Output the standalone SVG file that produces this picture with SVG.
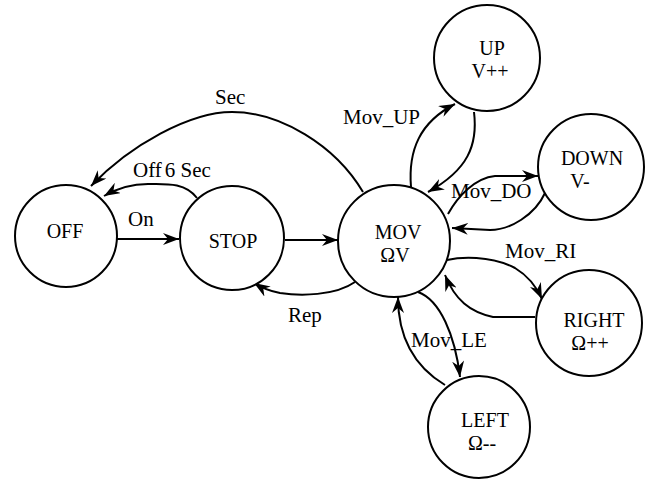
<svg xmlns="http://www.w3.org/2000/svg" width="647" height="479" viewBox="0 0 647 479">
<defs>
<marker id="arr" markerUnits="userSpaceOnUse" viewBox="0 0 16 12" refX="16" refY="6" markerWidth="16" markerHeight="12" orient="auto">
<path d="M0,0 L16,6 L0,12 L5,6 z" fill="#000"/>
</marker>
<style>
.n{fill:#fff;stroke:#000;stroke-width:2}
.t{font-family:'Liberation Serif','Times New Roman',Times,'DejaVu Serif',serif;font-size:21px;fill:#000}
.s{font-size:20px}
.c{text-anchor:middle}
.e{fill:none;stroke:#000;stroke-width:2;marker-end:url(#arr)}
</style>
</defs>
<rect width="647" height="479" fill="#fff"/>
<g id="connectors">
<path class="e" d="M363,192 C335,145 280,112 232,112 C190,112 130,145 91,186"/>
<path class="e" d="M197,198 C185,182 165,184 148,184 C130,184 116,189 104,196"/>
<path class="e" d="M117,239 L179,239"/>
<path class="e" d="M285,240 L338,240"/>
<path class="e" d="M355,282 C335,296 300,296 280,293 C270,291 262,288 254,283"/>
<path class="e" d="M411,187 C408,150 420,122 455,104"/>
<path class="e" d="M474,112 C478,145 468,170 428,192"/>
<path class="e" d="M448,214 C458,196 475,178 495,176 L538,176"/>
<path class="e" d="M545,193 C535,215 510,230 490,230 L452,228"/>
<path class="e" d="M447,260 C460,257 490,255 515,268 C530,277 537,288 542,299"/>
<path class="e" d="M535,317 L493,317 C470,312 455,300 445,275"/>
<path class="e" d="M418,292 C440,300 455,335 460,377"/>
<path class="e" d="M445,385 C420,370 398,345 398,297"/>
<text class="t" x="215" y="104">Sec</text>
<text class="t" x="133" y="177">Off<tspan dx="3">6 Sec</tspan></text>
<text class="t" x="128" y="226">On</text>
<text class="t" x="288" y="322">Rep</text>
<text class="t" x="343" y="124">Mov_UP</text>
<text class="t" x="451" y="198">Mov_DO</text>
<text class="t" x="505" y="258">Mov_RI</text>
<text class="t" x="411" y="347">Mov_LE</text>
</g>
<g id="OFF"><circle class="n" cx="66" cy="236" r="51"/><text class="t s c" x="65" y="238">OFF</text></g>
<g id="STOP"><circle class="n" cx="232" cy="238" r="52"/><text class="t s c" x="233" y="248">STOP</text></g>
<g id="MOV"><circle class="n" cx="394" cy="241" r="56"/><text class="t s c" x="398" y="239">MOV</text><text class="t s c" x="395" y="262">ΩV</text></g>
<g id="UP"><circle class="n" cx="487" cy="58" r="53"/><text class="t s c" x="492" y="55">UP</text><text class="t s c" x="490" y="78">V++</text></g>
<g id="DOWN"><circle class="n" cx="591" cy="167" r="53"/><text class="t s c" x="592" y="165">DOWN</text><text class="t s c" x="580" y="188">V-</text></g>
<g id="RIGHT"><circle class="n" cx="589" cy="323" r="53"/><text class="t s c" x="594" y="327">RIGHT</text><text class="t s c" x="590" y="350">Ω++</text></g>
<g id="LEFT"><circle class="n" cx="479" cy="427" r="51"/><text class="t s c" x="485" y="427">LEFT</text><text class="t s c" x="482" y="450">Ω--</text></g>
</svg>
